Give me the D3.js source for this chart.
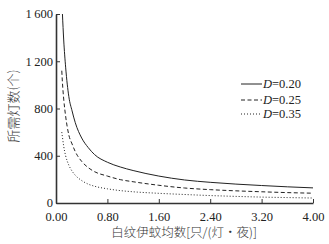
<!DOCTYPE html>
<html><head><meta charset="utf-8">
<script src="https://cdn.jsdelivr.net/npm/d3@7"></script>
<style>
body{margin:0;background:#fff;}
svg{display:block;}
</style></head>
<body><svg id="c" width="329" height="244"></svg>
<script>
const xs        = [0.09, 0.10, 0.12, 0.15, 0.20, 0.25, 0.30, 0.40, 0.50, 0.60, 0.80, 1.00, 1.20, 1.60, 2.00, 2.40, 2.80, 3.20, 3.60, 4.00];
const d020      = [null, 1600, 1380, 1150, 900, 780, 680, 550, 470, 410, 345, 305, 275, 228, 195, 175, 160, 148, 137, 128];
const d025      = [1120, 1020, 880, 735, 575, 500, 435, 352, 300, 265, 228, 198, 180, 150, 127, 113, 103, 95, 88, 83];
const d035      = [600, 560, 480, 400, 320, 270, 235, 190, 160, 142, 120, 105, 95, 82, 72, 63, 56, 50, 46, 42];
const seriesNames = ["0.20", "0.25", "0.35"];
const xTicks    = [0, 0.8, 1.6, 2.4, 3.2, 4.0];
const yTicks    = [0, 400, 800, 1200, 1600];
const xTitle    = "白纹伊蚊均数[只/(灯・夜)]";
const yTitle    = "所需灯数(个)";

const svg = d3.select("#c");
const x = d3.scaleLinear().domain([0, 4]).range([56, 313]);
const y = d3.scaleLinear().domain([0, 1600]).range([203, 14]);
const serif = "'Liberation Serif','DejaVu Serif',serif";
const cjk = "'Noto Sans CJK SC',sans-serif";
const axCol = "#333";

// axes
const xAxis = svg.append("g").attr("transform", `translate(0,${y(0)})`)
  .call(d3.axisBottom(x).tickValues(xTicks).tickSizeInner(-4).tickSizeOuter(0).tickPadding(9).tickFormat(d3.format(".2f")));
const yAxis = svg.append("g").attr("transform", `translate(${x(0)},0)`)
  .call(d3.axisLeft(y).tickValues(yTicks).tickSizeInner(-4).tickSizeOuter(0).tickPadding(3)
    .tickFormat(d => d >= 1000 ? Math.floor(d/1000) + "\u2009" + d3.format("03d")(d%1000) : String(d)));
[xAxis, yAxis].forEach(g => {
  g.select(".domain").attr("stroke", axCol).attr("stroke-width", 1.6);
  g.selectAll(".tick line").attr("stroke", axCol).attr("stroke-width", 1);
  g.selectAll(".tick text").attr("fill", "#222").attr("font-family", serif).attr("font-size", 12.5);
});
yAxis.selectAll(".tick text").attr("dy", "0.3em");

// curves
const line = d3.line().defined(d => d[1] != null).x(d => x(d[0])).y(d => y(d[1])).curve(d3.curveMonotoneX);
const dashes = [null, "4,2.5", "1,2"];
[d020, d025, d035].forEach((vals, i) => {
  svg.append("path").datum(xs.map((v, j) => [v, vals[j]]))
    .attr("d", line).attr("fill", "none").attr("stroke", "#222")
    .attr("stroke-width", 1).attr("stroke-dasharray", dashes[i]);
});

// legend
const legY = [84, 100, 114];
seriesNames.forEach((n, i) => {
  svg.append("line").attr("x1", 241).attr("x2", 262).attr("y1", legY[i]).attr("y2", legY[i])
    .attr("stroke", "#222").attr("stroke-width", 1).attr("stroke-dasharray", dashes[i]);
  const t = svg.append("text").attr("x", 263).attr("y", legY[i]).attr("dy", "0.35em")
    .attr("font-family", serif).attr("font-size", 12.5).attr("fill", "#222");
  t.append("tspan").attr("font-style", "italic").text("D");
  t.append("tspan").text("=" + n);
});

// titles
svg.append("text").attr("x", 184).attr("y", 233).attr("dy", "0.35em").attr("text-anchor", "middle")
  .attr("font-family", cjk).attr("font-weight", 300).attr("font-size", 12.5).attr("fill", "#333").text(xTitle);
svg.append("text").attr("transform", "translate(13,106) rotate(-90)").attr("dy", "0.35em").attr("text-anchor", "middle")
  .attr("font-family", cjk).attr("font-weight", 300).attr("font-size", 13).attr("fill", "#333").text(yTitle);
</script></body></html>
